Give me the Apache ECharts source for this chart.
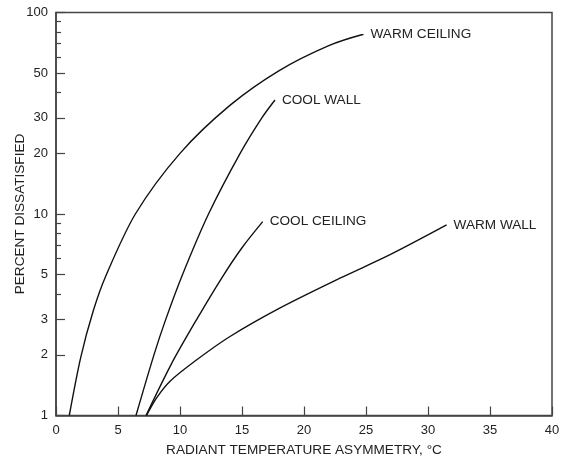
<!DOCTYPE html>
<html>
<head>
<meta charset="utf-8">
<script src="https://cdn.jsdelivr.net/npm/echarts@6/dist/echarts.min.js"></script>
<style>
  html, body { margin: 0; padding: 0; background: #fff; }
  #chart { width: 561px; height: 463px; }
</style>
</head>
<body>
<div id="chart"></div>
<script>
// Radiant temperature asymmetry (°C) vs. percent dissatisfied, four surface cases
const warmCeilingX = [1.07, 2, 3, 4, 6.4, 10, 14, 18, 22, 24.8];
const warmCeilingY = [1, 1.95, 3.3, 4.9, 10, 20, 34.5, 51.5, 68.5, 78];

const coolWallX = [6.45, 7.9, 8.85, 10.2, 12.3, 14.85, 16.6, 17.66];
const coolWallY = [1, 2, 3, 5, 10, 20, 30, 36.8];

const coolCeilingX = [7.26, 9.3, 11.35, 13.4, 15.0, 16.67];
const coolCeilingY = [1, 1.8, 3.0, 4.85, 6.8, 9.16];

const warmWallX = [7.3, 8.1, 9.2, 11.35, 14.0, 18.0, 22.9, 26.9, 31.5];
const warmWallY = [1, 1.22, 1.48, 1.89, 2.46, 3.4, 4.8, 6.26, 8.82];

const curveNames = ['WARM CEILING', 'COOL WALL', 'COOL CEILING', 'WARM WALL'];

const xTicks = [0, 5, 10, 15, 20, 25, 30, 35, 40];
const yMajorTicks = [1, 2, 3, 5, 10, 20, 30, 50, 100];
const yMinorTicks = [4, 6, 7, 8, 9, 40, 60, 70, 80, 90];
const yAxisTitle = 'PERCENT DISSATISFIED';

const pair = (xs, ys) => xs.map((x, i) => [x, ys[i]]);

const FONT = 'Liberation Sans, Arial, Helvetica, sans-serif';
const TEXT = '#222';
const AXIS = '#444';
const TITLE_SIZE = 13.6;

function curve(name, xs, ys) {
  return {
    name: name,
    type: 'line',
    data: pair(xs, ys),
    smooth: 0.3,
    showSymbol: false,
    silent: true,
    lineStyle: { color: '#111', width: 1.4 },
    endLabel: {
      show: true,
      formatter: name,
      distance: 7,
      fontFamily: FONT,
      fontSize: TITLE_SIZE,
      color: TEXT
    }
  };
}

const chart = echarts.init(document.getElementById('chart'), null, { renderer: 'canvas' });
chart.setOption({
  animation: false,
  backgroundColor: '#fff',
  grid: {
    left: 56, right: 9, top: 12.5, bottom: 47.5,
    outerBoundsMode: 'none',
    containLabel: false,
    show: true, borderColor: AXIS, borderWidth: 1.5, backgroundColor: 'transparent'
  },
  // vertical axis title, centred on the plot height
  graphic: [{
    type: 'text',
    x: 20, y: 214,
    rotation: Math.PI / 2,
    style: {
      text: yAxisTitle,
      font: TITLE_SIZE + 'px ' + FONT,
      fill: TEXT,
      align: 'center',
      verticalAlign: 'middle'
    },
    silent: true
  }],
  xAxis: {
    type: 'value',
    min: 0, max: 40, interval: 5,
    name: 'RADIANT TEMPERATURE ASYMMETRY, °C',
    nameLocation: 'middle',
    nameGap: 28,
    nameTextStyle: { fontFamily: FONT, fontSize: TITLE_SIZE, color: TEXT },
    axisLine: { show: true, lineStyle: { color: AXIS, width: 1.5 } },
    axisTick: { show: true, inside: true, length: 9, lineStyle: { color: AXIS, width: 1.2 } },
    axisLabel: {
      fontFamily: FONT, fontSize: 13, color: TEXT, margin: 8,
      customValues: xTicks
    },
    splitLine: { show: false }
  },
  yAxis: [
    {
      type: 'log', logBase: 10,
      min: 1, max: 100,
      axisLine: { show: true, lineStyle: { color: AXIS, width: 1.5 } },
      axisTick: {
        show: true, inside: true, length: 9,
        customValues: yMajorTicks,
        lineStyle: { color: AXIS, width: 1.2 }
      },
      axisLabel: {
        fontFamily: FONT, fontSize: 13, color: TEXT, margin: 8,
        customValues: yMajorTicks
      },
      splitLine: { show: false }
    },
    {
      type: 'log', logBase: 10,
      min: 1, max: 100,
      position: 'left',
      axisLine: { show: false },
      axisTick: {
        show: true, inside: true, length: 5,
        customValues: yMinorTicks,
        lineStyle: { color: AXIS, width: 1.2 }
      },
      axisLabel: { show: false },
      splitLine: { show: false }
    }
  ],
  series: [
    curve(curveNames[0], warmCeilingX, warmCeilingY),
    curve(curveNames[1], coolWallX, coolWallY),
    curve(curveNames[2], coolCeilingX, coolCeilingY),
    curve(curveNames[3], warmWallX, warmWallY)
  ]
});
</script>
</body>
</html>
